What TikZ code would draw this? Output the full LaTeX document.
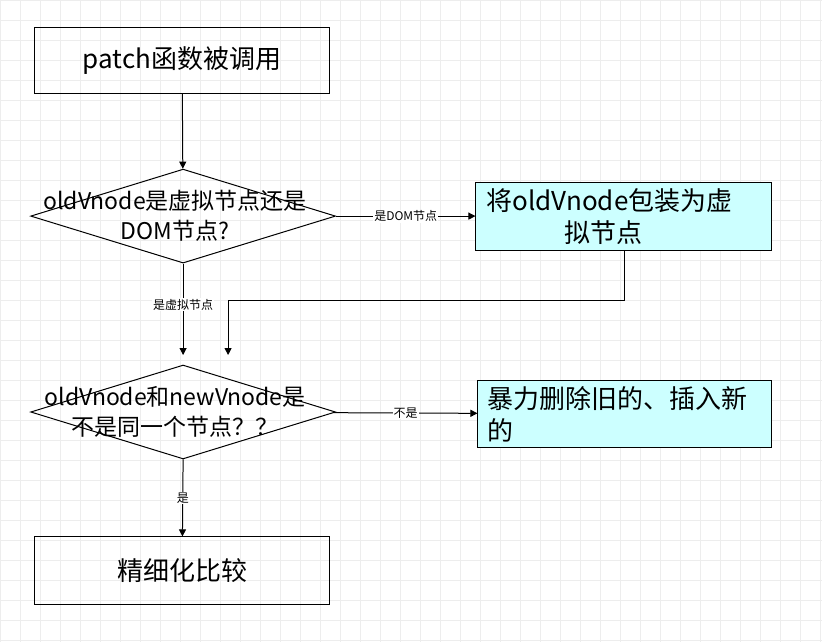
\documentclass[tikz,border=0pt]{standalone}
\usepackage{fontspec}
\setmainfont{Noto Sans CJK SC}
\usetikzlibrary{shapes.geometric,arrows.meta}
\definecolor{lc}{HTML}{CCFFFF}
\begin{document}
\begin{tikzpicture}[x=1pt,y=-1pt,
  box/.style={draw=black,line width=1pt,minimum width=295pt,minimum height=66pt,font=\fontsize{26}{32}\selectfont,align=center},
  cbox/.style={box,fill=lc,text width=290pt,align=left,inner sep=2pt},
  dia/.style={draw=black,line width=1pt,diamond,aspect=3.2,inner sep=0pt,minimum width=305pt,minimum height=94pt},
  dtext/.style={font=\fontsize{23}{30}\selectfont,align=center},
  arr/.style={line width=1pt,-{Triangle[length=7pt,width=7pt]}},
  lab/.style={fill=white,font=\fontsize{12}{14}\selectfont,inner sep=1pt}]
\fill[white] (0,0) rectangle (822,642);
\foreach \i in {0,20,...,820} \draw[black!7] (\i,0) -- (\i,642);
\foreach \j in {0,20,...,640} \draw[black!7] (0,\j) -- (822,\j);
\useasboundingbox (0,0) rectangle (822,642);
\node[box] (b1) at (182,60) {patch函数被调用};
\node[dia] (d1) at (183,216) {};
\node[dtext] (t1) at (175,216) {oldVnode是虚拟节点还是\\DOM节点?};
\node[cbox,minimum width=296pt,minimum height=68pt] (b2) at (624,216) {\hspace*{0.3em}将oldVnode包装为虚\\\hspace*{3.3em}拟节点};
\node[dia] (d2) at (183,412) {};
\node[dtext] (t2) at (175,412) {oldVnode和newVnode是\\不是同一个节点？？};
\node[cbox,minimum width=294pt,minimum height=68pt] (b3) at (625,414) {\hspace*{0.3em}暴力删除旧的、插入新\\\hspace*{0.3em}的};
\node[box,minimum height=68pt] (b4) at (182,571) {精细化比较};
\coordinate (c1) at (625,300);
\coordinate (c2) at (228,300);
\coordinate (c3) at (228,355);
\draw[arr] (b1) -- (d1);
\draw[arr] (d1) -- node[lab]{是DOM节点} (b2);
\draw[arr] (d1.south) -- node[lab,pos=0.45]{是虚拟节点} (183,355);
\draw[arr] (b2.south -| c1) -- (c1) -- (c2) -- (c3);
\draw[arr] (d2) -- node[lab]{不是} (b3);
\draw[arr] (d2.south) -- node[lab]{是} (b4);
\end{tikzpicture}
\end{document}
